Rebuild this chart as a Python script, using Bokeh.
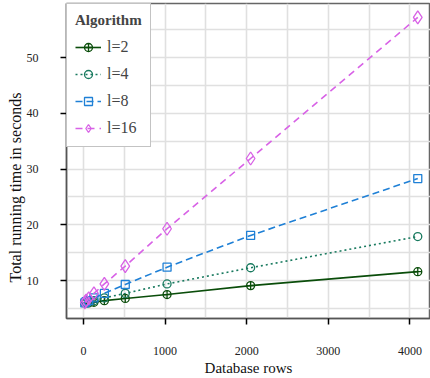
from bokeh.plotting import figure
from bokeh.models import FixedTicker, Range1d, Legend, LegendItem, Title
from bokeh.embed import file_html
from bokeh.resources import INLINE

rows = [16, 32, 64, 128, 256, 512, 1024, 2048, 4096]
t_l2 = [6.0, 6.0, 6.0, 6.1, 6.4, 6.8, 7.5, 9.1, 11.6]
t_l4 = [6.0, 6.1, 6.2, 6.4, 6.9, 7.7, 9.4, 12.3, 17.9]
t_l8 = [6.0, 6.2, 6.4, 6.9, 7.7, 9.3, 12.4, 18.1, 28.3]
t_l16 = [6.1, 6.4, 6.8, 7.7, 9.4, 12.6, 19.3, 31.9, 57.2]
labels = ["l=2", "l=4", "l=8", "l=16"]
x_ticks = [0, 1000, 2000, 3000, 4000]
y_ticks = [10, 20, 30, 40, 50]

FONT = "'Liberation Serif', 'Times New Roman', serif"

p = figure(width=430, height=378, output_backend="svg", toolbar_location=None,
           x_range=Range1d(-208, 4252), y_range=Range1d(3.2, 59.7),
           min_border_left=66, min_border_right=0, min_border_top=3, min_border_bottom=0)

p.outline_line_color = "#666666"
p.outline_line_width = 1.5

for ax in (p.xaxis[0], p.yaxis[0]):
    ax.axis_line_color = "#555555"
    ax.axis_line_width = 1.5
    ax.major_tick_line_color = "black"
    ax.major_tick_line_width = 1.5
    ax.major_tick_out = 6
    ax.major_tick_in = 0
    ax.minor_tick_line_color = None
    ax.major_label_text_font = FONT
    ax.major_label_text_font_size = "12px"
    ax.major_label_text_color = "#222222"
    ax.axis_label_text_font = FONT
    ax.axis_label_text_font_style = "normal"
    ax.axis_label_text_font_size = "15px"
    ax.axis_label_text_color = "#111111"

p.xaxis.ticker = FixedTicker(ticks=x_ticks)
p.yaxis.ticker = FixedTicker(ticks=y_ticks)
p.xaxis.axis_label = "Database rows"
p.xaxis.major_label_standoff = 22
p.xaxis.axis_label_standoff = 2
p.yaxis.major_label_standoff = 22

ylab = Title(text="Total running time in seconds", align="left", offset=36,
             text_font=FONT, text_font_style="normal", text_font_size="16px",
             text_color="#111111", standoff=0)
p.add_layout(ylab, "left")

p.xgrid.ticker = FixedTicker(ticks=[i * 500 for i in range(0, 9)])
p.ygrid.ticker = FixedTicker(ticks=[i * 5 for i in range(1, 12)])
p.grid.grid_line_color = "#e0e0e0"
p.grid.grid_line_width = 1.6

series = [
    (t_l2, "#0a4d0a", "solid", "circle_cross", 8),
    (t_l4, "#197a5f", "2 3", "circle", 8),
    (t_l8, "#1f80d6", "7 4", "square", 8),
    (t_l16, "#d862e6", "7 5", "diamond", 13),
]

items = []
for (ys, color, dash, marker, sz), lab in zip(series, labels):
    r1 = p.line(rows, ys, line_color=color, line_width=1.6, line_dash=dash)
    r2 = p.scatter(rows, ys, marker=marker, size=sz,
                   line_color=color, fill_color="white", fill_alpha=0.0, line_width=1.3)
    items.append(LegendItem(label=lab, renderers=[r1, r2]))

legend = Legend(items=items, location="top_left")
legend.title = "Algorithm"
legend.title_text_font = FONT
legend.title_text_font_style = "bold"
legend.title_text_font_size = "15px"
legend.title_standoff = 8
legend.label_text_font = FONT
legend.label_text_font_size = "16px"
legend.border_line_color = "#888888"
legend.border_line_width = 1.5
legend.background_fill_alpha = 1.0
legend.margin = 0
legend.padding = 8
legend.spacing = 7
legend.glyph_width = 26
legend.label_standoff = 6
p.add_layout(legend)

open("out.html", "w").write(file_html(p, INLINE))
